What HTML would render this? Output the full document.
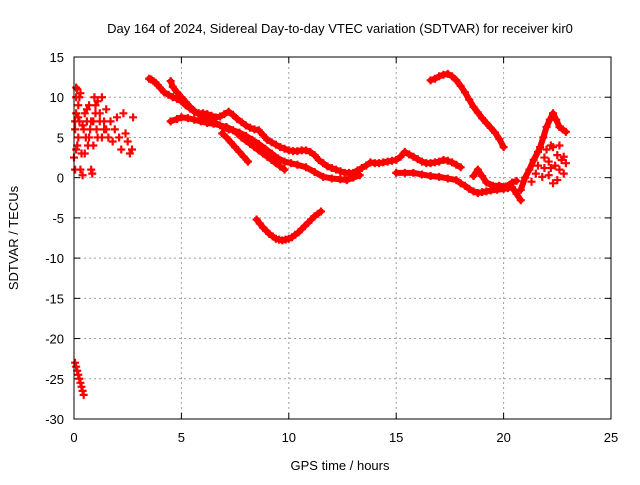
<!DOCTYPE html>
<html><head><meta charset="utf-8"><style>
body{margin:0;background:#fff}
svg text{font-family:"Liberation Sans",sans-serif;font-size:13px;fill:#000}
</style></head><body>
<svg id="chart" width="640" height="480" xmlns="http://www.w3.org/2000/svg">
<text x="340" y="33" text-anchor="middle">Day 164 of 2024, Sidereal Day-to-day VTEC variation (SDTVAR) for receiver kir0</text>
<text x="340" y="470" text-anchor="middle">GPS time / hours</text>
<text transform="translate(18,238) rotate(-90)" text-anchor="middle">SDTVAR / TECUs</text>
<g id="grid"></g><g id="ticks"></g><g id="marks"></g>
<rect x="74" y="57" width="537" height="362" fill="none" stroke="#000" stroke-width="1"/>
</svg>
<script>
const xTicks=[0,5,10,15,20,25];
const yTicks=[15,10,5,0,-5,-10,-15,-20,-25,-30];
const early=[[0,2.5],[0.05,6],[0.1,8],[0.1,10],[0.15,11],[0.2,9],[0.2,5],[0.25,7],[0.3,1],[0.3,10.5],[0.35,3],[0.4,0.3],[0.45,6],[0.5,8],[0.55,5],[0.6,7],[0.65,4],[0.7,9],[0.75,6],[0.8,1],[0.85,0.5],[0.9,7],[0.95,10],[1,8],[1.05,6],[1.1,9.5],[1.2,7],[1.3,10],[1.3,5],[1.4,7],[1.5,6],[1.6,5],[1.7,7],[1.8,4.5],[1.9,6],[2,7.5],[2.1,5],[2.2,3.5],[2.3,8],[2.4,5.5],[2.5,4.5],[2.6,3],[2.7,3.5],[2.75,7.5],[0.05,1],[0.15,4],[0.5,3],[0.9,4],[1.5,8.5],[1.1,5],[0.1,11.2],[0.25,10],[0.05,7],[0.4,6.5],[0.7,5],[1.0,9],[1.2,8],[0.2,7.5],[0.1,3.5],[0.6,8.5],[0.8,7],[1.4,6]];
const neg=[[0.05,-23],[0.1,-23.5],[0.15,-24],[0.2,-24.5],[0.25,-25],[0.3,-25.5],[0.35,-26],[0.4,-26.5],[0.45,-27]];
const band1=[[3.5,12.3],[3.6,12.2],[3.7,12],[3.8,11.8],[3.9,11.5],[4.0,11.2],[4.2,10.6],[4.4,10.3],[4.6,10.0],[4.8,9.8],[5.0,9.5],[5.2,9.0],[5.4,8.6],[5.6,8.2],[5.8,8.0],[6.0,8.0],[6.2,7.9],[6.4,7.7],[6.6,7.5],[6.8,7.6],[7.0,7.9],[7.2,8.2],[7.4,7.8],[7.6,7.3],[7.8,6.9],[8.0,6.5],[8.2,6.2],[8.4,6.0],[8.6,5.9],[8.8,5.3],[9.0,4.7],[9.2,4.4],[9.4,4.1],[9.6,3.8],[9.8,3.6],[10.0,3.4],[10.2,3.3],[10.4,3.3],[10.6,3.4],[10.8,3.4],[11.0,3.2],[11.2,2.8],[11.4,2.2],[11.6,1.8],[11.8,1.4],[12.0,1.2],[12.2,1.0],[12.4,0.8],[12.6,0.6],[12.8,0.6],[13.0,0.6],[13.2,0.9],[13.4,1.2],[13.6,1.5],[13.8,1.9],[14.0,1.8],[14.2,1.8],[14.4,1.9],[14.6,2.0],[14.8,2.1],[15.0,2.2],[15.2,2.6],[15.4,3.2],[15.6,2.9],[15.8,2.6],[16.0,2.3],[16.2,2.0],[16.4,1.8],[16.6,1.8],[16.8,1.9],[17.0,2.0],[17.2,2.2],[17.4,2.1],[17.6,1.9],[17.8,1.6],[18.0,1.3]];
const band2=[[4.5,12],[4.6,11.3],[4.8,10.6],[5.0,10.0],[5.2,9.4],[5.4,8.8],[5.6,8.3],[5.8,7.9],[6.0,7.5],[6.2,7.2],[6.4,7.0],[6.6,6.8],[6.8,6.5],[7.0,6.2],[7.2,6.0],[7.4,5.9],[7.6,5.5],[7.8,5.0],[8.0,4.6],[8.2,4.2],[8.4,3.8],[8.6,3.4],[8.8,3.0],[9.0,2.6],[9.2,2.2],[9.4,1.8],[9.6,1.4],[9.8,1.0]];
const band3=[[6.9,5.5],[7.1,5.0],[7.3,4.4],[7.5,3.8],[7.7,3.2],[7.9,2.6],[8.1,2.0]];
const band4=[[4.5,7],[4.8,7.3],[5.0,7.5],[5.3,7.4],[5.6,7.2],[5.9,7.0],[6.2,6.8],[6.5,6.7],[6.8,6.5],[7.1,6.3],[7.4,5.9],[7.7,5.6],[8.0,5.2],[8.3,4.7],[8.6,4.2],[8.9,3.6],[9.2,3.0],[9.5,2.4],[9.8,2.0],[10.1,1.8],[10.4,1.6],[10.8,1.3],[11.2,0.7],[11.6,0.1],[12.0,-0.1],[12.4,-0.2],[12.7,-0.3],[13.0,0.0],[13.3,0.3]];
const trackD=[[8.5,-5.2],[8.65,-5.7],[8.8,-6.2],[8.95,-6.6],[9.1,-7],[9.25,-7.3],[9.4,-7.6],[9.55,-7.7],[9.7,-7.8],[9.85,-7.7],[10,-7.6],[10.15,-7.4],[10.3,-7.1],[10.45,-6.8],[10.6,-6.4],[10.75,-6.0],[10.9,-5.6],[11.05,-5.2],[11.2,-4.8],[11.35,-4.5],[11.5,-4.2]];
const trackE=[[15.0,0.6],[15.4,0.6],[15.8,0.6],[16.2,0.4],[16.6,0.2],[17.0,0.1],[17.4,-0.1],[17.8,-0.3],[18.0,-0.7],[18.2,-1.0],[18.4,-1.4],[18.6,-1.7],[18.8,-1.9],[19.0,-1.8],[19.2,-1.7],[19.4,-1.6],[19.7,-1.5],[20.0,-1.4],[20.2,-1.3],[20.4,-1.2],[20.6,-2.0],[20.8,-2.8]];
const trackE2=[[18.6,0.2],[18.8,1.0],[19.0,0.2],[19.2,-0.6],[19.5,-1.0],[19.8,-1.0],[20.1,-1.1],[20.4,-0.6],[20.6,-0.4]];
const trackF=[[16.6,12.1],[16.8,12.3],[17.0,12.6],[17.2,12.8],[17.4,12.9],[17.6,12.6],[17.8,12.1],[18.0,11.4],[18.2,10.6],[18.4,9.7],[18.6,8.8],[18.8,8.1],[19.0,7.4],[19.2,6.8],[19.4,6.2],[19.6,5.6],[19.8,4.8],[20.0,3.8]];
const rise=[[20.8,-1.5],[21.0,0],[21.2,1.0],[21.4,2.2],[21.6,3.2],[21.7,3.8],[21.85,5.0],[22.0,6.3],[22.15,7.2],[22.3,8.0],[22.45,7.2],[22.6,6.3],[22.75,6.0],[22.9,5.7]];
const cluster=[[21.3,-0.5],[21.5,0.5],[21.6,1.5],[21.8,0.1],[21.9,2.5],[22.0,3.5],[22.1,2.0],[22.2,4.0],[22.3,3.8],[22.3,-0.7],[22.4,1.5],[22.5,2.8],[22.6,1.0],[22.6,4.0],[22.7,2.2],[22.8,2.6],[22.8,0.5],[22.9,1.8],[22.1,0.3],[22.5,-0.3],[21.9,1.2],[22.2,1.2]];
const tracks=[band1,band2,band3,band4,trackD,trackE,trackE2,trackF,rise];
const scattered=[early,neg,cluster];
const x0=74,x1=611,y0=419,y1=57;
const X=v=>x0+(v-0)/25*(x1-x0);
const Y=v=>y0-(v+30)/45*(y0-y1);
const NS='http://www.w3.org/2000/svg';
const grid=document.getElementById('grid'),ticks=document.getElementById('ticks'),marks=document.getElementById('marks');
function mk(tag,attrs,parent){const e=document.createElementNS(NS,tag);for(const k in attrs)e.setAttribute(k,attrs[k]);parent.appendChild(e);return e;}
xTicks.forEach(t=>{const x=X(t);
 if(t>0&&t<25){const g=mk('line',{x1:x,x2:x,y1:y1,y2:y0,stroke:'#a0a0a0','stroke-dasharray':'2,3'},grid);
 
 }
 mk('line',{x1:x,x2:x,y1:y0,y2:y0-6,stroke:'#000'},ticks);
 mk('line',{x1:x,x2:x,y1:y1,y2:y1+6,stroke:'#000'},ticks);
 const l=mk('text',{x:x,y:y0+23,'text-anchor':'middle'},ticks);l.textContent=t;
 
 
});
yTicks.forEach(t=>{const y=Y(t);
 if(t<15&&t>-30){const g=mk('line',{x1:x0,x2:x1,y1:y,y2:y,stroke:'#a0a0a0','stroke-dasharray':'2,3'},grid);
 
 }
 mk('line',{x1:x0,x2:x0+6,y1:y,y2:y,stroke:'#000'},ticks);
 mk('line',{x1:x1,x2:x1-6,y1:y,y2:y,stroke:'#000'},ticks);
 const l=mk('text',{x:x0-10,y:y+5,'text-anchor':'end'},ticks);l.textContent=t;
 
 
});
tracks.forEach(s=>{
 const pts=s.map(p=>X(p[0])+','+Y(p[1])).join(' ');
 const pl=mk('polyline',{points:pts,stroke:'#ff0000','stroke-width':6,fill:'none','stroke-linejoin':'round','stroke-linecap':'round'},marks);
 
 
});
let d='';
tracks.concat(scattered).forEach(s=>s.forEach(p=>{const x=X(p[0]),y=Y(p[1]);d+=`M${x-4},${y}h8M${x},${y-4}v8`;}));
const path=mk('path',{d:d,stroke:'#ff0000','stroke-width':2.2,fill:'none'},marks);


</script>
</body></html>
